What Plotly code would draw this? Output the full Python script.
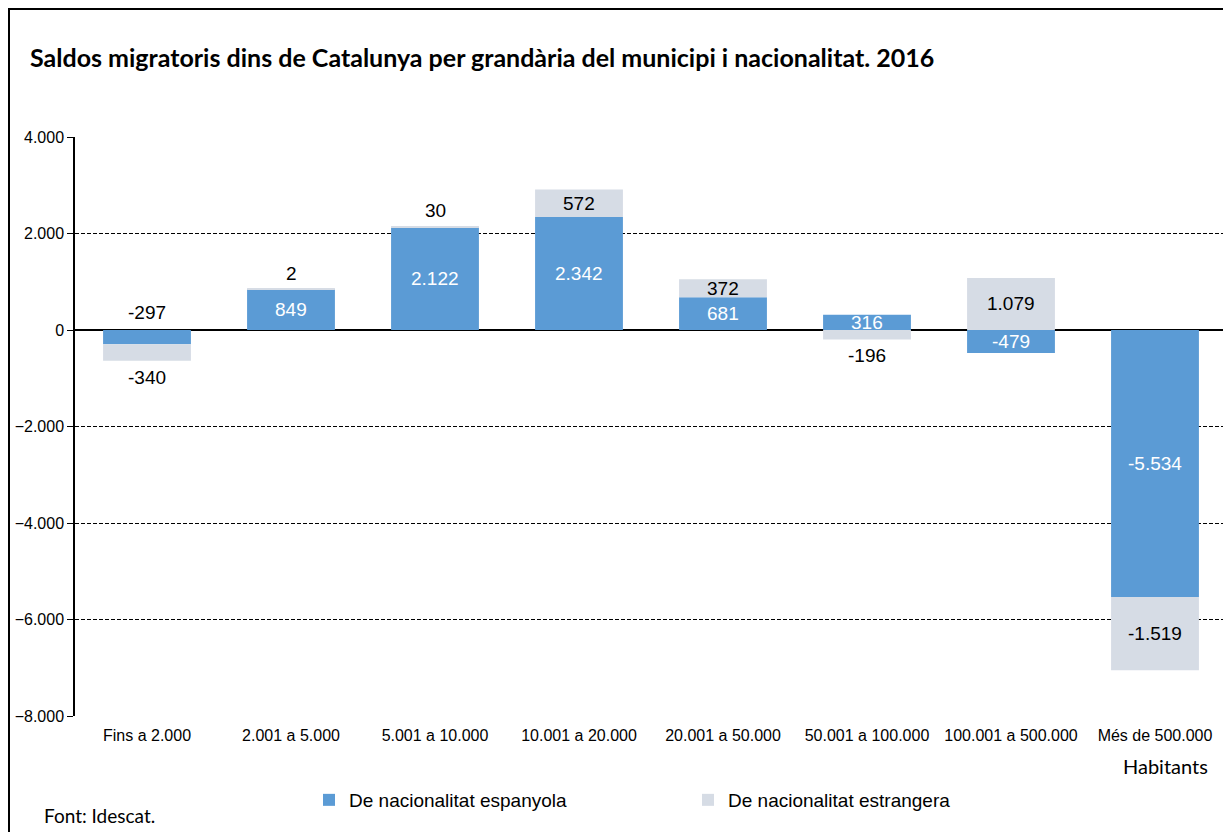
import plotly.graph_objects as go

categories = ["Fins a 2.000", "2.001 a 5.000", "5.001 a 10.000", "10.001 a 20.000",
              "20.001 a 50.000", "50.001 a 100.000", "100.001 a 500.000", "Més de 500.000"]
espanyola = [-297, 849, 2122, 2342, 681, 316, -479, -5534]
estrangera = [-340, 2, 30, 572, 372, -196, 1079, -1519]
y_ticks = [-8000, -6000, -4000, -2000, 0, 2000, 4000]

# label placement styles (not data): "c" = centred inside, "o" = outside end, "z" = above the zero line
esp_label_pos = ["z", "c", "c", "c", "c", "c", "c", "c"]
est_label_pos = ["o", "o", "o", "c", "c", "o", "c", "c"]

BLUE = "#5B9BD5"
GREY = "#D6DCE5"
OFF = 8                      # page body margin
W, H = 1231 - OFF, 832 - OFF  # figure size
# plot area in page pixels
L, R, T, B = 75, 1227, 137, 716


def px_x(p):
    return (p - L) / (R - L)


def px_y(p):
    return (B - p) / (B - T)


def fmt(v):
    return f"{v:,}".replace(",", ".")


fig = go.Figure()
fig.add_trace(go.Bar(x=categories, y=espanyola, name="De nacionalitat espanyola",
                     marker=dict(color=BLUE, line=dict(width=0))))
fig.add_trace(go.Bar(x=categories, y=estrangera, name="De nacionalitat estrangera",
                     marker=dict(color=GREY, line=dict(width=0))))

ann = []
lab_font = dict(family="Liberation Sans, Arial", size=19)
for i, c in enumerate(categories):
    e = espanyola[i]
    if esp_label_pos[i] == "z":
        ann.append(dict(x=c, y=0, text=fmt(e), showarrow=False, yanchor="bottom", yshift=5,
                        font=dict(lab_font, color="black")))
    else:
        ann.append(dict(x=c, y=e / 2, text=fmt(e), showarrow=False, yanchor="middle",
                        font=dict(lab_font, color="white")))
    f = estrangera[i]
    base = e if (e >= 0) == (f >= 0) else 0
    if est_label_pos[i] == "c":
        ann.append(dict(x=c, y=base + f / 2, text=fmt(f), showarrow=False, yanchor="middle",
                        font=dict(lab_font, color="black")))
    else:
        end = base + f
        ann.append(dict(x=c, y=end, text=fmt(f), showarrow=False,
                        yanchor="bottom" if f >= 0 else "top",
                        yshift=3 if f >= 0 else -4,
                        font=dict(lab_font, color="black")))

ann.append(dict(xref="paper", yref="paper", x=px_x(1210), y=px_y(766),
                text="Habitants", showarrow=False, xanchor="right", yanchor="middle",
                font=dict(family="Lato, Calibri", size=20, color="black")))
ann.append(dict(xref="paper", yref="paper", x=px_x(42), y=px_y(815),
                text="Font: Idescat.", showarrow=False, xanchor="left", yanchor="middle",
                font=dict(family="Lato, Calibri", size=19, color="black")))

fig.update_layout(
    width=W, height=H,
    barmode="relative", bargap=0.39,
    separators=",.",
    paper_bgcolor="white", plot_bgcolor="white",
    margin=dict(l=L - OFF, r=W - (R - OFF), t=T - OFF, b=H - (B - OFF)),
    title=dict(text="<b>Saldos migratoris dins de Catalunya per grandària del municipi i nacionalitat. 2016</b>",
               xref="container", yref="container", x=(30 - OFF) / W, xanchor="left",
               y=1 - (58 - OFF) / H, yanchor="middle",
               font=dict(family="Lato, Calibri", size=25, color="black")),
    xaxis=dict(showgrid=False, showline=False, ticks="", zeroline=False,
               ticklabelstandoff=8,
               tickfont=dict(family="Liberation Sans, Arial", size=16, color="black")),
    yaxis=dict(range=[-8000, 4000], tickvals=y_ticks, tickformat=",d",
               showgrid=True, gridcolor="black", griddash="4px,2px", gridwidth=1,
               zeroline=True, zerolinecolor="black", zerolinewidth=1.5,
               showline=True, linecolor="black", linewidth=1.5,
               ticks="outside", ticklen=6, tickcolor="black",
               tickfont=dict(family="Liberation Sans, Arial", size=16, color="black")),
    showlegend=True,
    legend=dict(orientation="h", x=px_x(309), xanchor="left",
                y=px_y(800), yanchor="middle",
                entrywidth=334, entrywidthmode="pixels",
                font=dict(family="Liberation Sans, Arial", size=19, color="black"),
                itemwidth=30, traceorder="normal"),
    annotations=ann,
    shapes=[dict(type="rect", xref="paper", yref="paper",
                 x0=px_x(9), x1=1.0, y0=px_y(845), y1=px_y(9),
                 line=dict(color="black", width=2), fillcolor="rgba(0,0,0,0)", layer="above")],
)

fig.write_html("out.html")
